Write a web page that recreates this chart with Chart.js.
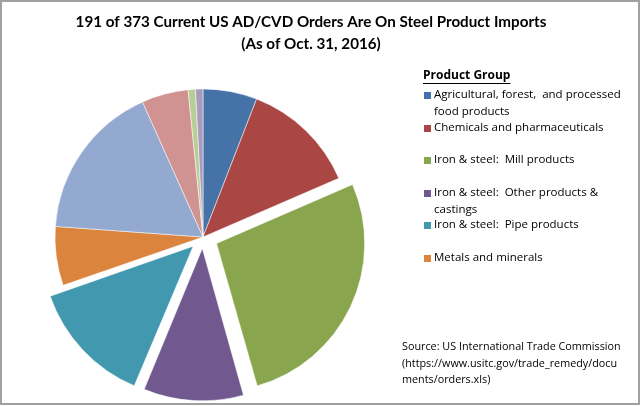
<!DOCTYPE html>
<html>
<head>
<meta charset="utf-8">
<script src="https://cdn.jsdelivr.net/npm/chart.js@4.4.1/dist/chart.umd.min.js"></script>
<style>
  html, body { margin: 0; padding: 0; background: #fff; }
  #wrap { position: relative; width: 640px; height: 406px; }
</style>
</head>
<body>
<div id="wrap"><canvas id="ordersChart" width="640" height="406"></canvas></div>
<script>
// order counts per product group (373 total, 191 steel)
const categories = [
    "Agricultural, forest,  and processed food products",
    "Chemicals and pharmaceuticals",
    "Iron & steel:  Mill products",
    "Iron & steel:  Other products & castings",
    "Iron & steel:  Pipe products",
    "Metals and minerals",
    "Miscellaneous manufactures",
    "Machinery",
    "Textiles and apparel",
    "Electronics",
];
const orderCounts = [22, 47, 101, 40, 50, 24, 64, 19, 3, 3];
// chart.js moves an arc by offset/4 px (and grows narrow ones a bit)
const explodedOffsets = [0, 0, 60, 46, 54, 0, 0, 0, 0, 0];
const sliceColors = [
    "#4572A7", "#AA4643", "#89A54E", "#71588F", "#4198AF",
    "#DB843D", "#93A9CF", "#D19392", "#B9CD96", "#A99BBD",
];

// legend lines as they wrap in the original (only first 6 groups shown)
const legendTitle = "Product Group";
const legendLines = [
    ["Agricultural, forest,  and processed", "food products"],
    ["Chemicals and pharmaceuticals"],
    ["Iron & steel:  Mill products"],
    ["Iron & steel:  Other products &", "castings"],
    ["Iron & steel:  Pipe products"],
    ["Metals and minerals"],
];
const legendRowY = [95, 128, 160, 193, 225, 258];

const titleLines = [
    "191 of 373 Current US AD/CVD Orders Are On Steel Product Imports",
    "(As of Oct. 31, 2016)",
];
const sourceLines = [
    "Source: US International Trade Commission",
    "(https://www.usitc.gov/trade_remedy/docu",
    "ments/orders.xls)",
];

const TITLE_FONT = "Lato, 'Liberation Sans', sans-serif";
const TEXT_FONT = "'Open Sans', 'Liberation Sans', sans-serif";

const decorPlugin = {
    id: "decor",
    beforeDraw(chart) {
        const ctx = chart.ctx;
        ctx.save();
        ctx.fillStyle = "#fff";
        ctx.fillRect(0, 0, chart.width, chart.height);
        ctx.restore();
    },
    afterDraw(chart) {
        const ctx = chart.ctx;
        const colors = chart.data.datasets[0].backgroundColor;
        ctx.save();

        // frame
        ctx.strokeStyle = "#a0a0a0";
        ctx.lineWidth = 2;
        ctx.strokeRect(1, 1, chart.width - 2, chart.height - 3);

        // title
        ctx.fillStyle = "#000";
        ctx.textAlign = "center";
        ctx.textBaseline = "middle";
        ctx.font = "bold 15.2px " + TITLE_FONT;
        ctx.fillText(titleLines[0], 311, 22);
        ctx.fillText(titleLines[1], 311, 44);

        // legend
        ctx.textAlign = "left";
        ctx.font = "bold 12px " + TEXT_FONT;
        ctx.fillText(legendTitle, 423, 76);
        const w = ctx.measureText(legendTitle).width;
        ctx.fillRect(423, 83, w, 1);

        ctx.font = "11.5px " + TEXT_FONT;
        legendLines.forEach((lines, i) => {
            const y = legendRowY[i];
            ctx.fillStyle = colors[i];
            ctx.fillRect(424, y - 3, 7, 7);
            ctx.fillStyle = "#000";
            lines.forEach((t, j) => ctx.fillText(t, 434, y + j * 16.5));
        });

        // source note
        ctx.font = "10.8px " + TEXT_FONT;
        sourceLines.forEach((t, j) => ctx.fillText(t, 402, 347 + j * 16.5));
        ctx.restore();
    },
};

function initializeChart() {
    const ctx = document.getElementById("ordersChart");
    new Chart(ctx, {
        type: "pie",
        data: {
            labels: categories,
            datasets: [
                {
                    data: orderCounts,
                    backgroundColor: sliceColors,
                    borderColor: "rgba(255, 255, 255, 0.5)",
                    borderWidth: 1,
                    offset: explodedOffsets,
                },
            ],
        },
        options: {
            responsive: false,
            animation: false,
            radius: 148,
            layout: {
                padding: { left: 47, right: 281, top: 81, bottom: 13 },
            },
            plugins: {
                legend: { display: false },
                title: { display: false },
                tooltip: { enabled: false },
            },
        },
        plugins: [decorPlugin],
    });
}

initializeChart();
</script>
</body>
</html>
